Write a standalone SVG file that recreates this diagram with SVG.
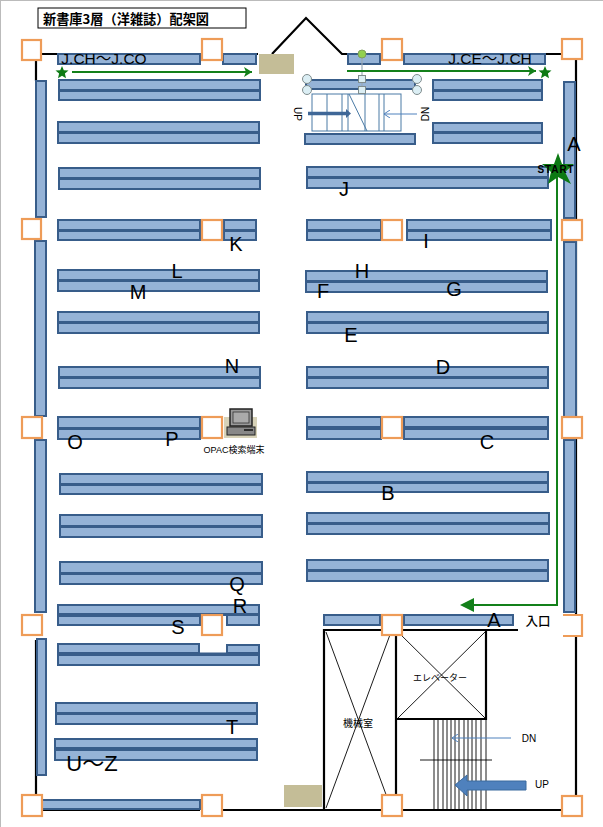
<svg xmlns="http://www.w3.org/2000/svg" width="603" height="827" viewBox="0 0 603 827">
<defs>
<style>
.s{fill:#95b3d7;stroke:#385d8a;stroke-width:2}
.d{fill:none;stroke:#385d8a;stroke-width:3}
.c{fill:#fff;stroke:#ee9c58;stroke-width:2.2}
.w{fill:none;stroke:#000;stroke-width:2.2}
.t{fill:none;stroke:#000;stroke-width:.9}
.g{fill:none;stroke:#13801a;stroke-width:2}
.st{fill:#0d7a14}
.b{fill:none;stroke:#4f81bd;stroke-width:1}
.tan{fill:#c4bd97}
.h{fill:#dbeef4;stroke:#7f8c8d;stroke-width:1}
.l{font-family:"Liberation Sans",Arial,sans-serif;font-size:20px;fill:#000;text-anchor:middle}
.m{font-family:"Liberation Sans","Noto Sans CJK JP",sans-serif;font-size:10px;fill:#000;text-anchor:middle}
.w2{font-family:"Noto Sans CJK JP",sans-serif}
</style>
<marker id="ga" markerWidth="12" markerHeight="10" refX="9" refY="5" orient="auto" markerUnits="userSpaceOnUse"><path d="M1 0L9 5L1 10L3 5Z" fill="#13801a"/></marker>
<marker id="ba" markerWidth="10" markerHeight="8" refX="7" refY="4" orient="auto" markerUnits="userSpaceOnUse"><path d="M1 0L7 4L1 8" fill="none" stroke="#4f81bd"/></marker>
</defs>
<rect width="603" height="827" fill="#fff"/>
<rect x="0" y="0" width="603" height="1" fill="#bbb"/><rect x="0" y="0" width="1" height="827" fill="#bbb"/>
<g id="title"><rect x="38" y="8" width="208" height="20" fill="#fff" stroke="#000" stroke-width="1"/><text x="43" y="24" font-family="'Noto Sans CJK JP',sans-serif" font-size="13.200" font-weight="700" fill="#000">新書庫3層（洋雑誌）配架図</text></g>
<g id="walls">
<path class="w" d="M36 81V54H258M272 54L306 18L342 54H576V810M36 640V810M222 810H562M42 810H200"/>
<path class="w" d="M324 810V630H518M396 630V810M396 719H486V630"/>
<path class="t" d="M326 632L391 808M391 632L326 808M398 632L485 718M485 632L398 718"/>
<path class="t" d="M434 720V810M438 720V810M443 720V810M447 720V810M451 720V810M455 720V810M459 720V810M464 720V810M468 720V810M472 720V810M476 720V810M481 720V810M486 720V810M420 760H492"/>
<path class="tan" d="M259 54h35v20h-35zM284 785h38v22h-38z"/>
</g>
<g id="shelves-left">
<g id="sl0"><rect class="s" x="58" y="54" width="142" height="10"/><rect class="s" x="223" y="54" width="33" height="10"/></g>
<g id="sl1"><rect class="s" x="59" y="80" width="201" height="10"/><rect class="s" x="59" y="91" width="201" height="9"/></g>
<g id="sl2"><rect class="s" x="58" y="122" width="201" height="10"/><rect class="s" x="58" y="133" width="201" height="10"/></g>
<g id="sl3"><rect class="s" x="59" y="168" width="201" height="10"/><rect class="s" x="59" y="179" width="201" height="10"/></g>
<g id="sl4"><rect class="s" x="58" y="220" width="142" height="10"/><rect class="s" x="58" y="231" width="142" height="9"/><rect class="s" x="224" y="220" width="32" height="10"/><rect class="s" x="224" y="231" width="32" height="9"/></g>
<g id="sl5"><rect class="s" x="58" y="270" width="201" height="10"/><rect class="s" x="58" y="281" width="201" height="10"/></g>
<g id="sl6"><rect class="s" x="58" y="312" width="201" height="10"/><rect class="s" x="58" y="323" width="201" height="10"/></g>
<g id="sl7"><rect class="s" x="59" y="367" width="201" height="10"/><rect class="s" x="59" y="378" width="201" height="10"/></g>
<g id="sl8"><rect class="s" x="58" y="417" width="142" height="11"/><rect class="s" x="58" y="429" width="142" height="10"/></g>
<g id="sl9"><rect class="s" x="60" y="474" width="202" height="10"/><rect class="s" x="60" y="485" width="202" height="9"/></g>
<g id="sl10"><rect class="s" x="60" y="515" width="202" height="11"/><rect class="s" x="60" y="527" width="202" height="10"/></g>
<g id="sl11"><rect class="s" x="60" y="562" width="202" height="11"/><rect class="s" x="60" y="574" width="202" height="10"/></g>
<g id="sl12"><rect class="s" x="58" y="605" width="201" height="9"/><rect class="s" x="58" y="616" width="142" height="9"/><rect class="s" x="227" y="615" width="32" height="10"/></g>
<g id="sl13"><rect class="s" x="58" y="644" width="141" height="9"/><rect class="s" x="227" y="645" width="32" height="8"/><rect class="s" x="58" y="655" width="201" height="10"/></g>
<g id="sl14"><rect class="s" x="56" y="703" width="201" height="10"/><rect class="s" x="56" y="714" width="201" height="10"/></g>
<g id="sl15"><rect class="s" x="55" y="739" width="202" height="9"/><rect class="s" x="55" y="750" width="202" height="10"/></g>
<g id="sl16"><rect class="s" x="42" y="800" width="158" height="9"/></g>
<g id="vl"><rect class="s" x="36" y="81" width="10" height="136"/><rect class="s" x="35" y="241" width="11" height="175"/><rect class="s" x="35" y="440" width="11" height="172"/><rect class="s" x="37" y="639" width="9" height="136"/></g>
<path class="d" d="M59 90.500H260M58 132.500H259M59 178.500H260M58 230.500H200M224 230.500H256M58 280.500H259M58 322.500H259M59 377.500H260M58 428.500H200M60 484.500H262M60 526.500H262M60 573.500H262M58 614.500H259M58 654H259M56 713.500H257M55 748.500H257"/>
</g>
<g id="shelves-right">
<g id="sr0"><rect class="s" x="348" y="54" width="32" height="10"/><rect class="s" x="404" y="54" width="141" height="10"/></g>
<g id="sr1"><rect class="s" x="433" y="80" width="109" height="10"/><rect class="s" x="433" y="91" width="109" height="9"/></g>
<g id="sr2"><rect class="s" x="433" y="123" width="109" height="9"/><rect class="s" x="433" y="133" width="109" height="10"/></g>
<g id="sr3"><rect class="s" x="306" y="80" width="109" height="9"/><rect class="s" x="305" y="134" width="110" height="10"/></g>
<g id="sr4"><rect class="s" x="307" y="167" width="241" height="10"/><rect class="s" x="307" y="178" width="241" height="10"/></g>
<g id="sr5"><rect class="s" x="307" y="220" width="74" height="10"/><rect class="s" x="307" y="231" width="74" height="9"/><rect class="s" x="407" y="220" width="144" height="10"/><rect class="s" x="407" y="231" width="144" height="9"/></g>
<g id="sr6"><rect class="s" x="306" y="271" width="241" height="10"/><rect class="s" x="306" y="282" width="241" height="10"/></g>
<g id="sr7"><rect class="s" x="307" y="312" width="241" height="10"/><rect class="s" x="307" y="323" width="241" height="10"/></g>
<g id="sr8"><rect class="s" x="307" y="367" width="241" height="10"/><rect class="s" x="307" y="378" width="241" height="10"/></g>
<g id="sr9"><rect class="s" x="307" y="417" width="74" height="10"/><rect class="s" x="307" y="429" width="74" height="10"/><rect class="s" x="404" y="417" width="144" height="10"/><rect class="s" x="404" y="429" width="144" height="10"/></g>
<g id="sr10"><rect class="s" x="307" y="472" width="241" height="10"/><rect class="s" x="307" y="483" width="241" height="9"/></g>
<g id="sr11"><rect class="s" x="307" y="513" width="242" height="10"/><rect class="s" x="307" y="524" width="242" height="10"/></g>
<g id="sr12"><rect class="s" x="307" y="560" width="241" height="10"/><rect class="s" x="307" y="571" width="241" height="10"/></g>
<g id="sr13"><rect class="s" x="324" y="615" width="56" height="10"/><rect class="s" x="404" y="615" width="109" height="10"/></g>
<g id="vr"><rect class="s" x="564" y="82" width="11" height="136"/><rect class="s" x="564" y="242" width="12" height="175"/><rect class="s" x="564" y="440" width="11" height="172"/></g>
<path class="d" d="M433 90.500H542M433 132.500H542M307 177.500H548M307 230.500H381M407 230.500H551M306 281.500H547M307 322.500H548M307 377.500H548M307 428H381M404 428H548M307 482.500H548M307 523.500H549M307 570.500H548"/>
</g>
<g id="columns">
<rect class="c" x="22" y="40" width="19" height="20"/><rect class="c" x="202" y="39" width="20" height="21"/><rect class="c" x="382" y="39" width="20" height="21"/><rect class="c" x="562" y="39" width="20" height="20"/>
<rect class="c" x="22" y="219" width="19" height="20"/><rect class="c" x="202" y="220" width="20" height="20"/><rect class="c" x="382" y="220" width="20" height="20"/><rect class="c" x="562" y="220" width="20" height="20"/>
<rect class="c" x="22" y="417" width="20" height="21"/><rect class="c" x="202" y="417" width="20" height="21"/><rect class="c" x="382" y="417" width="20" height="21"/><rect class="c" x="562" y="417" width="20" height="21"/>
<rect class="c" x="22" y="615" width="20" height="20"/><rect class="c" x="202" y="615" width="20" height="20"/><rect class="c" x="382" y="615" width="20" height="20"/><path class="c" d="M563 615H582V636H563"/>
<rect class="c" x="22" y="795" width="20" height="21"/><rect class="c" x="202" y="795" width="20" height="21"/><rect class="c" x="382" y="795" width="20" height="21"/><rect class="c" x="562" y="796" width="20" height="20"/>
</g>
<g id="upper-stairs">
<rect x="312" y="94" width="89" height="37" fill="#fff" stroke="#4a7aa5" stroke-width="1"/>
<path d="M327 94V131M342 94V131M348 94V131M365 94V131M379 94V131M384 94V131M349 94L367 131" fill="none" stroke="#4a7aa5" stroke-width="1"/>
<path d="M308 113.500H346" stroke="#3f6797" stroke-width="3.500"/><path d="M346 109L351 113.500L346 118Z" fill="#3f6797"/>
<path class="b" d="M417 114H384" marker-end="url(#ba)"/>
<text class="m" transform="translate(294 114) rotate(90)">UP</text>
<text class="m" transform="translate(429 114) rotate(-90)">DN</text>
</g>
<g id="handles">
<path d="M362 54V90" stroke="#9aa9b8" stroke-width="1.200"/>
<circle cx="362" cy="54" r="4" fill="#92d050" stroke="#7f9f5a"/>
<circle class="h" cx="307" cy="79" r="4.500"/><circle class="h" cx="417" cy="79" r="4.500"/><circle class="h" cx="307" cy="90" r="4.500"/><circle class="h" cx="417" cy="90" r="4.500"/>
<rect class="h" x="358.500" y="75.500" width="7" height="7"/><rect class="h" x="358.500" y="86.500" width="7" height="7"/>
</g>
<g id="connectors">
<path class="g" d="M72 72H252" marker-end="url(#ga)"/>
<path class="g" d="M347 71H536" marker-end="url(#ga)"/>
<path class="g" d="M557 175V605H472"/>
<path d="M474 598V612L460 605Z" fill="#13801a"/>
<path class="b" d="M511 738H452" marker-end="url(#ba)"/>
<path d="M526 781H467V775L455 785L467 796V790H526Z" fill="#4f81bd" stroke="#3b6a9e"/>
</g>
<g id="stars">
<path class="st" d="M62 66L63.800 70.300L68.500 70.600L64.900 73.600L66 78.200L62 75.700L58 78.200L59.100 73.600L55.500 70.600L60.200 70.300Z"/>
<path class="st" d="M545 66L546.800 70.300L551.500 70.600L547.900 73.600L549 78.200L545 75.700L541 78.200L542.100 73.600L538.500 70.600L543.200 70.300Z"/>
<path class="st" d="M558 153L562 164L574 164L565 172L571 184L558 177L548 184L551 172L542 164L554 164Z"/>
</g>
<g id="computer">
<rect x="224" y="417" width="33" height="21" fill="#d7d2b8"/>
<rect x="230" y="409" width="22" height="17" fill="#9a9a9a" stroke="#222" stroke-width="1.500"/>
<rect x="233" y="412" width="16" height="11" fill="#aaa" stroke="#333" stroke-width=".8"/>
<rect x="227" y="427" width="28" height="8" fill="#888" stroke="#222"/>
<path d="M244 430H253" stroke="#111" stroke-width="1.500"/>
</g>
<g id="labels">
<text class="l" x="104" y="64" style="font-size:15.500px">J.CH<tspan class="w2">～</tspan>J.CO</text>
<text class="l" x="490" y="64" style="font-size:15.500px">J.CE<tspan class="w2">～</tspan>J.CH</text>
<text class="l" x="574" y="151">A</text>
<text x="556" y="173" font-family="'Liberation Sans',sans-serif" font-size="10" letter-spacing=".9" font-weight="700" text-anchor="middle" fill="#000">START</text>
<text class="l" x="344" y="196">J</text><text class="l" x="236" y="251">K</text><text class="l" x="426" y="248">I</text>
<text class="l" x="177" y="278">L</text><text class="l" x="138" y="299">M</text><text class="l" x="362" y="278">H</text>
<text class="l" x="323" y="298">F</text><text class="l" x="454" y="296">G</text><text class="l" x="351" y="342">E</text>
<text class="l" x="232" y="373">N</text><text class="l" x="443" y="374">D</text><text class="l" x="75" y="449">O</text>
<text class="l" x="172" y="446">P</text><text class="l" x="487" y="449">C</text><text class="l" x="388" y="500">B</text>
<text class="l" x="237" y="591">Q</text><text class="l" x="240" y="613">R</text><text class="l" x="178" y="634">S</text>
<text class="l" x="232" y="734">T</text><text class="l" x="92" y="771" style="font-size:22px">U<tspan class="w2">～</tspan>Z</text>
<text class="l" x="494" y="627">A</text>
<text x="538" y="626" font-family="'Noto Sans CJK JP',sans-serif" font-size="12.500" font-weight="500" text-anchor="middle" fill="#000">入口</text>
<text class="m" x="234" y="453" style="font-size:9px">OPAC検索端末</text>
<text class="m" x="440" y="681" style="font-size:9px">エレベーター</text>
<text class="m" x="358" y="727">機械室</text>
<text class="m" x="529" y="742">DN</text>
<text class="m" x="542" y="788">UP</text>
</g>
</svg>
